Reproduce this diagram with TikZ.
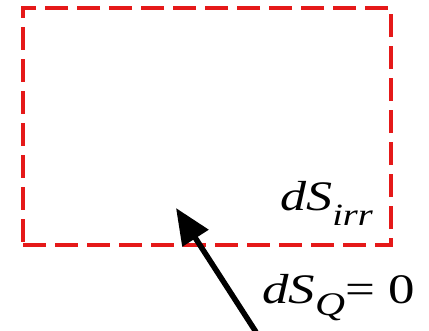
\documentclass[tikz,border=0pt]{standalone}
\usepackage{fontspec}
\setmainfont{Liberation Serif}
\usetikzlibrary{arrows.meta, positioning}
\definecolor{BoxRed}{rgb}{0.9, 0.1, 0.1}

\begin{document}
\begin{tikzpicture}[x=1pt, y=-1pt, font=\fontsize{42}{46}\selectfont]
\useasboundingbox (0,0) rectangle (429,330);

% sistema
\node[draw=BoxRed, line width=4pt, dash pattern=on 23pt off 9pt,
      minimum width=368pt, minimum height=237pt, inner sep=0pt] (caja) at (207,126.5) {};

% etiquetas (texto algo ensanchado)
\node[anchor=base west, inner sep=0pt] (irr) at (280,210)
    {\scalebox{1.24}[1]{\textit{dS}\raisebox{-0.36em}{\fontsize{31}{31}\selectfont\textit{irr}}}};
\node[anchor=base west, inner sep=0pt] (flujo) at (262,303)
    {\scalebox{1.26}[1]{\textit{dS}\raisebox{-0.3em}{\fontsize{33}{33}\selectfont\textit{Q}}= 0}};

% flecha
\coordinate (cola) at (256,332);
\coordinate (punta) at (176,208);
\draw[line width=5.5pt, -{Triangle[length=36pt, width=30pt]}] (cola) -- (punta);

\end{tikzpicture}
\end{document}
